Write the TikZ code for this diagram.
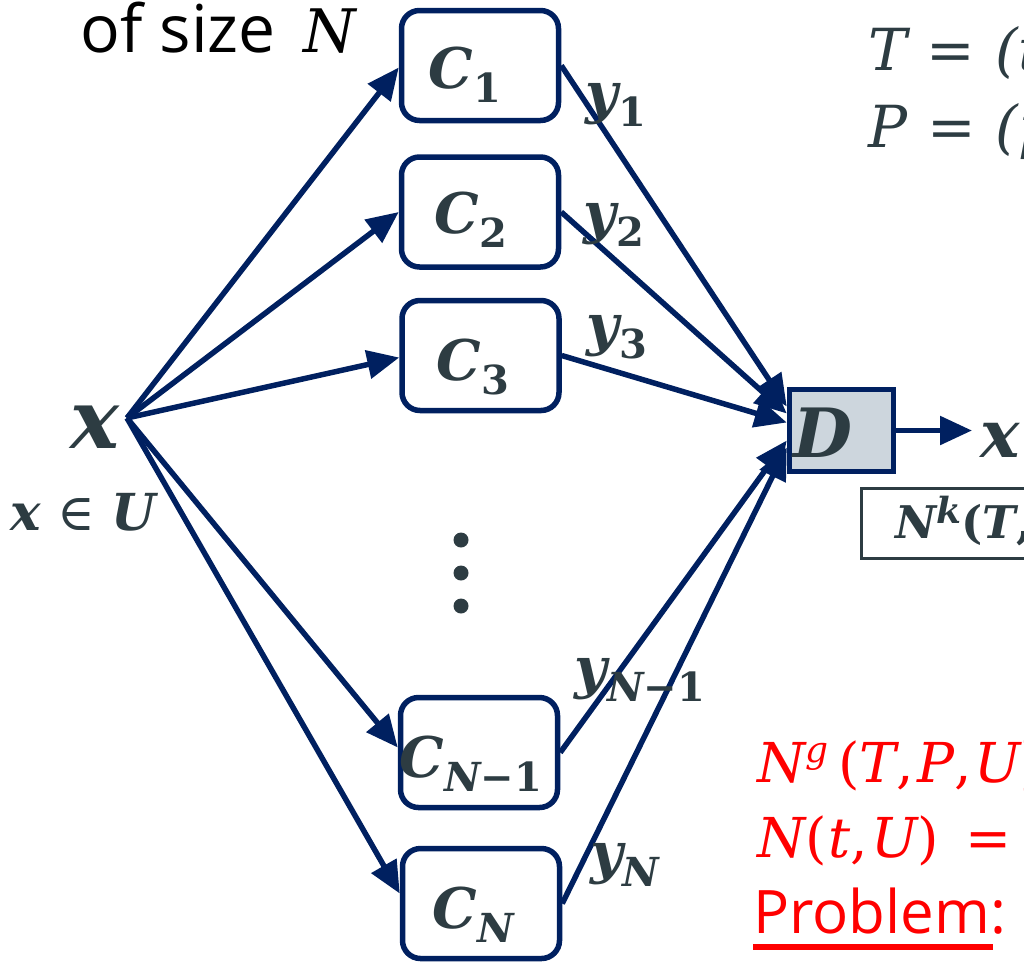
\documentclass[tikz,border=0pt]{standalone}
\usepackage{fontspec}
\setmainfont{DejaVu Serif}
\newfontfamily\hand{Open Sans}
\usetikzlibrary{arrows.meta}
\definecolor{navy}{RGB}{0,32,96}
\definecolor{slate}{RGB}{45,60,66}
\definecolor{dfill}{RGB}{205,214,221}
\definecolor{myred}{RGB}{255,0,0}
\newcommand\fs[1]{\fontsize{#1}{#1}\selectfont}
\newcommand\mysub[1]{\raisebox{-14pt}{\fs{40}#1}}
\newcommand\mysup[2]{\raisebox{#1}{\fs{36}#2}}
\begin{document}
\begin{tikzpicture}[x=1pt,y=-1pt,
  box/.style={draw=navy,line width=5.5pt,rounded corners=18pt,fill=white,
    minimum width=157pt,minimum height=110pt,inner sep=0pt},
  arr/.style={draw=navy,line width=5.5pt,-{Triangle[length=32pt,width=28pt]}},
  mt/.style={text=slate,font=\bfseries\itshape\fs{56},inner sep=0pt},
  lt/.style={text=slate,font=\itshape\fs{58},inner sep=0pt},
  rt/.style={text=myred,font=\itshape\fs{55},inner sep=0pt},
  hw/.style={font=\hand\fs{66},inner sep=0pt}]
\useasboundingbox (0,0) rectangle (1024,962);
\clip (0,0) rectangle (1024,962);
% boxes
\node[box] (C1) at (480,65.5) {};
\node[box] (C2) at (480,212) {};
\node[box] (C3) at (480.5,355.5) {};
\node[box] (CNm) at (479,752.5) {};
\node[box] (CN) at (481,903.5) {};
\node[draw=navy,line width=5.5pt,fill=dfill,minimum width=104pt,minimum height=82pt,inner sep=0pt] (D) at (841.5,430.5) {};
\node[draw=slate,line width=3pt,minimum width=240pt,minimum height=70pt,anchor=north west,inner sep=0pt] (nkbox) at (859.5,486.5) {};
\coordinate (src) at (127,418);
\coordinate (xtip) at (972,430.5);
% dots
\fill[slate] (461,540) circle (7.5pt);
\fill[slate] (461,573) circle (7.5pt);
\fill[slate] (461,606) circle (7.5pt);
% input arrows
\draw[arr] (src) -- ([yshift=-2pt]C1.west);
\draw[arr] (src) -- (C2.west);
\draw[arr] (src) -- ([yshift=-2pt]C3.west);
\draw[arr] (src) -- ([yshift=5pt]CNm.west);
\draw[arr] (src) -- ([yshift=10pt]CN.west);
% output arrows
\draw[arr] (C1.east) -- ([yshift=24pt]D.west);
\draw[arr] (C2.east) -- ([yshift=17pt]D.west);
\draw[arr] (C3.east) -- ([yshift=8pt]D.west);
\draw[arr] (CNm.east) -- ([yshift=-10pt]D.west);
\draw[arr] (CN.east) -- ([yshift=-17pt]D.west);
\draw[arr] (D.east) -- (xtip);
% labels in boxes
\node[mt,anchor=base] (lC1) at (465,88) {C\mysub{\upshape 1}};
\node[mt,anchor=base] (lC2) at (471,233) {C\mysub{\upshape 2}};
\node[mt,anchor=base] (lC3) at (473,380) {C\mysub{\upshape 3}};
\node[mt,anchor=base] (lCNm) at (471,777) {C\mysub{N\upshape −1}};
\node[mt,anchor=base] (lCN) at (473,928) {C\mysub{N}};
\node[mt,anchor=base,font=\bfseries\itshape\fs{68}] (lD) at (823,457) {D};
% y labels
\node[mt,anchor=base] (ly1) at (616,112) {y\mysub{\upshape 1}};
\node[mt,anchor=base] (ly2) at (614,232) {y\mysub{\upshape 2}};
\node[mt,anchor=base] (ly3) at (617,344) {y\mysub{\upshape 3}};
\node[mt,anchor=base] (lyNm) at (640,687) {y\mysub{N\upshape −1}};
\node[mt,anchor=base] (lyN) at (625,872) {y\mysub{N}};
% x labels
\node[mt,anchor=base,font=\bfseries\itshape\fs{82}] (lx) at (95,448) {x};
\node[mt,anchor=base,font=\fs{51}] (lxU) at (83,530) {\bfseries\itshape x\mdseries\upshape\ ∈\ \bfseries\itshape U};
\node[mt,anchor=base west,font=\bfseries\itshape\fs{66}] (lxo) at (980,457) {x};
\node[mt,anchor=base west,font=\bfseries\itshape\fs{45}] (lnk) at (895,538) {N\mysup{15pt}{k}\upshape(\itshape T\upshape,\,\itshape P\upshape,\,\itshape U\upshape)};
% top right
\node[lt,anchor=base west] (tT) at (868,70) {T\hspace{20pt}=\hspace{20pt}(t\upshape ,\,\itshape t};
\node[lt,anchor=base west] (tP) at (868,147) {P\hspace{20pt}=\hspace{20pt}(p\upshape ,\,\itshape p};
% top left
\node[hw,anchor=base west] (tsize) at (80,52) {of size};
\node[lt,anchor=base west,text=black,font=\itshape\fs{60}] (tN) at (303,52) {N};
% red text
\node[rt,anchor=base west] (r1) at (757,782) {N\mysup{20pt}{g}\hspace{10pt}\upshape(\itshape T\upshape,\kern3pt\itshape P\upshape,\kern3pt\itshape U\upshape)};
\node[rt,anchor=base west] (r2) at (757,857) {N\upshape(\kern2pt\itshape t\upshape,\kern3pt\itshape U\upshape)\hspace{26pt}=};
\node[hw,anchor=base west,text=myred,font=\hand\fs{60}] (r3) at (753,933) {Problem:};
\fill[myred] (753,944) rectangle (993,950);
\end{tikzpicture}
\end{document}
